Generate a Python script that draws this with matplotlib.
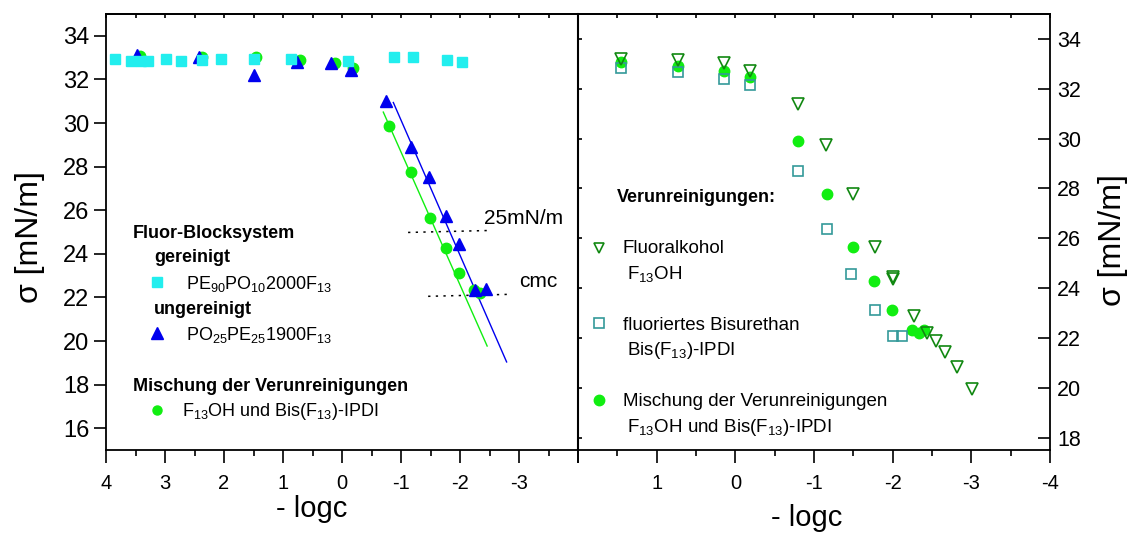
import matplotlib
matplotlib.use("Agg")
import matplotlib.pyplot as plt
from matplotlib.ticker import MultipleLocator, FixedLocator

plt.rcParams['font.family'] = ['Liberation Sans', 'DejaVu Sans']
plt.rcParams['mathtext.fontset'] = 'custom'
plt.rcParams['mathtext.rm'] = 'Liberation Sans'
plt.rcParams['mathtext.it'] = 'Liberation Sans:italic'
plt.rcParams['mathtext.bf'] = 'Liberation Sans:bold'

# ---- left panel: block copolymers and impurity mixture ----
pe90_x = [3.85, 3.58, 3.41, 3.28, 2.99, 2.73, 2.37, 2.05, 1.49, 0.86, -0.10, -0.88, -1.20, -1.78, -2.03]
pe90_y = [32.93, 32.86, 32.86, 32.84, 32.93, 32.84, 32.89, 32.95, 32.95, 32.93, 32.84, 33.03, 33.03, 32.89, 32.80]

po25_x = [3.47, 2.43, 1.50, 0.77, 0.19, -0.15, -0.75, -1.17, -1.47, -1.76, -1.98, -2.25, -2.44]
po25_y = [33.12, 33.02, 32.21, 32.79, 32.77, 32.44, 30.99, 28.90, 27.51, 25.72, 24.46, 22.32, 22.37]

mix_left_x = [3.42, 2.37, 1.45, 0.72, 0.12, -0.19, -0.80, -1.17, -1.49, -1.76, -1.98, -2.24, -2.34]
mix_left_y = [33.08, 33.05, 33.05, 32.89, 32.77, 32.51, 29.87, 27.75, 25.65, 24.28, 23.13, 22.34, 22.22]

# linear fits through the steep parts
fit_blue_x = [-0.87, -2.79]
fit_blue_y = [30.94, 19.04]
fit_green_x = [-0.70, -2.46]
fit_green_y = [30.50, 19.77]

# reference levels
ref25_x = [-1.12, -2.51]
ref25_y = [24.98, 25.07]
cmc_x = [-1.46, -2.83]
cmc_y = [22.05, 22.14]

# ---- right panel: individual impurities ----
f13oh_x = [1.45, 0.73, 0.14, -0.19, -0.80, -1.15, -1.49, -1.78, -2.00, -2.00, -2.27, -2.44, -2.55, -2.66, -2.82, -3.01]
f13oh_y = [33.19, 33.16, 33.03, 32.73, 31.40, 29.76, 27.76, 25.63, 24.45, 24.35, 22.89, 22.20, 21.89, 21.45, 20.83, 19.93]

bis_x = [1.45, 0.73, 0.14, -0.19, -0.80, -1.17, -1.47, -1.77, -2.00, -2.12]
bis_y = [32.85, 32.68, 32.39, 32.15, 28.69, 26.36, 24.56, 23.13, 22.09, 22.09]

mix_right_x = [1.45, 0.73, 0.14, -0.19, -0.80, -1.17, -1.49, -1.76, -1.99, -2.24, -2.34, -2.40]
mix_right_y = [33.08, 32.93, 32.73, 32.49, 29.89, 27.76, 25.63, 24.29, 23.13, 22.32, 22.20, 22.33]

left_xticks = [4, 3, 2, 1, 0, -1, -2, -3, -4]
left_xticklabels = ['4', '3', '2', '1', '0', '-1', '-2', '-3', '']
right_xticks = [2, 1, 0, -1, -2, -3, -4]
right_xticklabels = ['', '1', '0', '-1', '-2', '-3', '-4']

C_CYAN = '#22eeee'
C_BLUE = '#0000ee'
C_GREEN = '#11ee11'
C_DKGREEN = '#118811'
C_TEAL = '#339999'

W, H = 1132, 534
fig = plt.figure(figsize=(W / 100, H / 100), dpi=100)


def fx(px):
    return px / W


def fy(py):
    return 1 - py / H


axL = fig.add_axes([fx(106), fy(450), (578 - 106) / W, (450 - 14) / H])
axR = fig.add_axes([fx(578), fy(450), (1050 - 578) / W, (450 - 14) / H])

# left panel
axL.plot(mix_left_x, mix_left_y, 'o', color=C_GREEN, ms=7.5, mec=C_GREEN, zorder=3)
axL.plot(po25_x, po25_y, '^', color=C_BLUE, ms=8.5, mec=C_BLUE, zorder=4)
axL.plot(pe90_x, pe90_y, 's', color=C_CYAN, ms=7.5, mec=C_CYAN, zorder=5)
axL.plot(fit_blue_x, fit_blue_y, '-', color=C_BLUE, lw=1.0, zorder=2)
axL.plot(fit_green_x, fit_green_y, '-', color=C_GREEN, lw=1.0, zorder=2)
axL.plot(ref25_x, ref25_y, color='black', lw=1.1, ls=(0, (1.5, 3.5)), zorder=2)
axL.plot(cmc_x, cmc_y, color='black', lw=1.1, ls=(0, (1.5, 3.5)), zorder=2)

axL.set_xlim(4, -4)
axL.set_ylim(15, 35)

# right panel
axR.plot(mix_right_x, mix_right_y, 'o', color=C_GREEN, ms=7.5, mec=C_GREEN, zorder=3)
axR.plot(bis_x, bis_y, 's', mfc='none', mec=C_TEAL, mew=1.2, ms=7, zorder=4)
axR.plot(f13oh_x, f13oh_y, 'v', mfc='none', mec=C_DKGREEN, mew=1.2, ms=8.5, zorder=5)
axR.set_xlim(2, -4)
axR.set_ylim(17.5, 35)

for ax in (axL, axR):
    for sp in ax.spines.values():
        sp.set_linewidth(1.3)

# left axes ticks
axL.xaxis.set_major_locator(FixedLocator(left_xticks))
axL.set_xticklabels(left_xticklabels)
axL.xaxis.set_minor_locator(MultipleLocator(0.5))
axL.yaxis.set_major_locator(FixedLocator(list(range(16, 35, 2))))
axL.tick_params(axis='x', which='major', direction='out', length=9, width=1.2,
                labelsize=14.5, top=False, pad=8)
axL.tick_params(axis='x', which='minor', direction='out', length=4, width=1.2, top=False)
axL.tick_params(axis='y', which='major', direction='out', length=9, width=1.2,
                labelsize=17, right=False, pad=3)

# right axes ticks
axR.xaxis.set_major_locator(FixedLocator(right_xticks))
axR.set_xticklabels(right_xticklabels)
axR.xaxis.set_minor_locator(MultipleLocator(0.5))
axR.yaxis.set_major_locator(FixedLocator(list(range(18, 35, 2))))
axR.tick_params(axis='x', which='major', direction='out', length=9, width=1.2,
                labelsize=14.5, top=False, pad=8)
axR.tick_params(axis='x', which='minor', direction='out', length=4, width=1.2, top=False)
axR.tick_params(axis='y', which='major', direction='in', length=9, width=1.2,
                labelsize=15.5, left=False, right=True, labelleft=False, labelright=True, pad=5)

# small inward ticks along the top edge of both panels
for ax in (axL, axR):
    top = ax.secondary_xaxis('top')
    top.xaxis.set_major_locator(MultipleLocator(0.5))
    top.tick_params(direction='in', length=3, width=1.2, labeltop=False)
    top.spines['top'].set_linewidth(1.3)

# small inward ticks on the shared divider for the right scale
left_side = axR.secondary_yaxis('left')
left_side.yaxis.set_major_locator(FixedLocator(list(range(18, 35, 2))))
left_side.tick_params(direction='in', length=3, width=1.2, labelleft=False)
left_side.spines['left'].set_linewidth(1.5)

# axis titles
fig.text(fx(30), fy(237), 'σ [mN/m]', rotation=90, ha='center', va='center', fontsize=23)
fig.text(fx(1113), fy(240), 'σ [mN/m]', rotation=90, ha='center', va='center', fontsize=23)
fig.text(fx(312), fy(509), '- logc', ha='center', va='center', fontsize=21)
fig.text(fx(807), fy(518), '- logc', ha='center', va='center', fontsize=21)

# annotations on the left panel
fig.text(fx(484), fy(224), '25mN/m', ha='left', va='baseline', fontsize=15)
fig.text(fx(519), fy(287), 'cmc', ha='left', va='baseline', fontsize=15)


def key_marker(px, py, **kw):
    fig.add_artist(plt.Line2D([fx(px)], [fy(py)], transform=fig.transFigure, ls='none', **kw))


# left key
LS = 13
fig.text(fx(133), fy(238), 'Fluor-Blocksystem', fontweight='bold', fontsize=LS, va='baseline')
fig.text(fx(154), fy(262), 'gereinigt', fontweight='bold', fontsize=LS, va='baseline')
key_marker(157, 282, marker='s', ms=6.5, color=C_CYAN, mec=C_CYAN)
fig.text(fx(186), fy(289), r'PE$_{90}$PO$_{10}$2000F$_{13}$', fontsize=LS, va='baseline')
fig.text(fx(154), fy(314), 'ungereinigt', fontweight='bold', fontsize=LS, va='baseline')
key_marker(157, 333, marker='^', ms=8, color=C_BLUE, mec=C_BLUE)
fig.text(fx(186), fy(340), r'PO$_{25}$PE$_{25}$1900F$_{13}$', fontsize=LS, va='baseline')
fig.text(fx(133), fy(391), 'Mischung der Verunreinigungen', fontweight='bold', fontsize=LS, va='baseline')
key_marker(157, 410, marker='o', ms=6.5, color=C_GREEN, mec=C_GREEN)
fig.text(fx(182), fy(416), r'F$_{13}$OH und Bis(F$_{13}$)-IPDI', fontsize=LS, va='baseline')

# right key
RS = 13.5
fig.text(fx(617), fy(202), 'Verunreinigungen:', fontweight='bold', fontsize=LS, va='baseline')
key_marker(599, 248, marker='v', ms=7.5, mfc='none', mec=C_DKGREEN, mew=1.2)
fig.text(fx(623), fy(253), 'Fluoralkohol', fontsize=RS, va='baseline')
fig.text(fx(627), fy(279), r'F$_{13}$OH', fontsize=RS, va='baseline')
key_marker(599, 323, marker='s', ms=6.5, mfc='none', mec=C_TEAL, mew=1.2)
fig.text(fx(623), fy(330), 'fluoriertes Bisurethan', fontsize=RS, va='baseline')
fig.text(fx(627), fy(355), r'Bis(F$_{13}$)-IPDI', fontsize=RS, va='baseline')
key_marker(599, 400, marker='o', ms=7.5, color=C_GREEN, mec=C_GREEN)
fig.text(fx(623), fy(406), 'Mischung der Verunreinigungen', fontsize=RS, va='baseline')
fig.text(fx(627), fy(432), r'F$_{13}$OH und Bis(F$_{13}$)-IPDI', fontsize=RS, va='baseline')

fig.savefig('out.png', dpi=100)
